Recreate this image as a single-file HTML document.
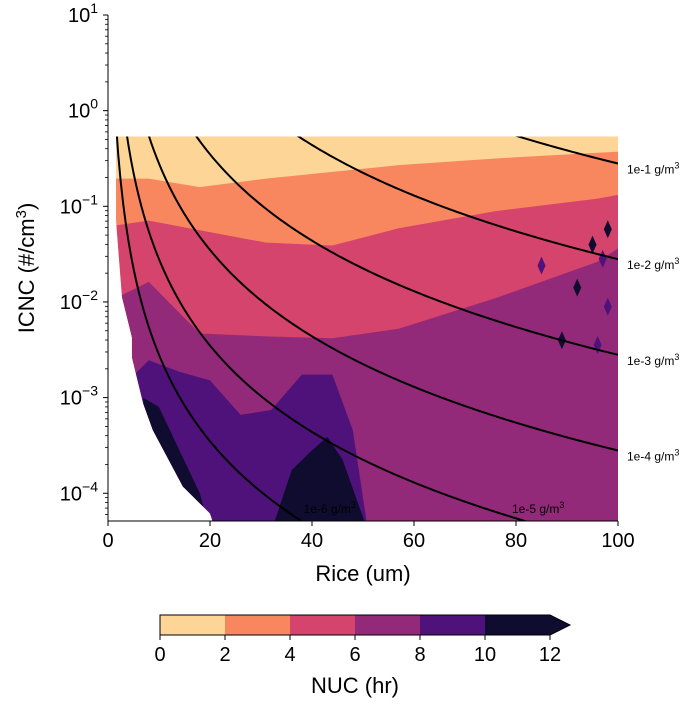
<!DOCTYPE html>
<html><head><meta charset="utf-8"><style>
body{margin:0;background:#fff;width:700px;height:700px;overflow:hidden;font-family:"Liberation Sans","DejaVu Sans",sans-serif}
</style></head><body>
<svg id="chart" width="700" height="700" xmlns="http://www.w3.org/2000/svg" font-family="Liberation Sans, DejaVu Sans, sans-serif"></svg>
<script>
// data
const levels=[0,2,4,6,8,10,12];
const colors=["#fdd596","#f8865f","#d5446c","#922a79","#4f127b","#100c2f"];
const bndX=[1.5,8,18,31,44,57,76,96,100];
const bnd2=[-0.71,-0.71,-0.80,-0.71,-0.64,-0.57,-0.50,-0.44,-0.43];
const bnd4=[-1.20,-1.15,-1.25,-1.38,-1.41,-1.23,-1.05,-0.92,-0.88];
const bnd6=[-1.96,-1.79,-2.33,-2.36,-2.38,-2.28,-1.96,-1.58,-1.44];
const bnd8X=[4,8,14,20,26,32,38,44,48,51];
const bnd8=[-2.82,-2.61,-2.73,-2.82,-3.18,-3.13,-2.76,-2.76,-3.34,-4.4];
const bnd10X=[32,36,40,43,46,51];
const bnd10=[-4.4,-3.76,-3.55,-3.41,-3.65,-4.4];
const edgeX=[1.57,1.57,2.75,4.7,4.7,6.9,8.8,14.7,20,20.5];
const edgeY=[-0.27,-1.14,-1.95,-2.37,-2.58,-3.06,-3.34,-3.93,-4.21,-4.29];
const spotX=[98,97,95,85,92,98,89,96];
const spotY=[-1.24,-1.55,-1.40,-1.62,-1.85,-2.05,-2.40,-2.45];
const iwc=[1e-1,1e-2,1e-3,1e-4,1e-5,1e-6];
const iwcLabels=["1e-1","1e-2","1e-3","1e-4","1e-5","1e-6"];
const xticks=[0,20,40,60,80,100];
const yticks=[1,0,-1,-2,-3,-4];
const cbTicks=[0,2,4,6,8,10,12];

const L=108,R=618,T=15,B=521,yMax=1,yMin=-4.29,dataTop=-0.27;
const X=v=>L+(v/100)*(R-L);
const Y=lv=>T+(yMax-lv)/(yMax-yMin)*(B-T);
const svg=document.getElementById('chart');
const NS="http://www.w3.org/2000/svg";
function mk(t,a,p){const e=document.createElementNS(NS,t);for(const k in a)e.setAttribute(k,a[k]);(p||svg).appendChild(e);return e;}

const defs=mk('defs',{});
const cp=mk('clipPath',{id:'dataclip'},defs);
let ep="M"+X(edgeX[0])+","+Y(edgeY[0]);
for(let i=1;i<edgeX.length;i++)ep+=" L"+X(edgeX[i])+","+Y(edgeY[i]);
ep+=" L"+X(100)+","+Y(-4.29)+" L"+X(100)+","+Y(dataTop)+" Z";
mk('path',{d:ep},cp);
const pc=mk('clipPath',{id:'plotclip'},defs);
mk('rect',{x:L,y:Y(dataTop),width:R-L,height:B-Y(dataTop)},pc);

const g=mk('g',{'clip-path':'url(#dataclip)'});


const base=mk('rect',{x:L,y:Y(dataTop),width:R-L,height:B-Y(dataTop),fill:colors[0]},g);


function band(xs,ys,col,name,closed){
  let d="M"+X(xs[0])+","+Y(ys[0]);
  for(let i=1;i<xs.length;i++)d+=" L"+X(xs[i])+","+Y(ys[i]);
  if(!closed)d+=" L"+X(xs[xs.length-1])+","+(B+5)+" L"+X(xs[0])+","+(B+5)+" Z"; else d+=" Z";
  const p=mk('path',{d:d,fill:col},g);
  
  
}
band([0].concat(bndX),[bnd2[0]].concat(bnd2),colors[1],'band-2-4');
band([0].concat(bndX),[bnd4[0]].concat(bnd4),colors[2],'band-4-6');
band([0].concat(bndX),[bnd6[0]].concat(bnd6),colors[3],'band-6-8');
band([0].concat(bnd8X),[bnd8[0]].concat(bnd8),colors[4],'band-8-10');
band(bnd10X,bnd10,colors[5],'band-10-12-patch');
band([6.9,10,14,18,20,15,10,7],[-3.0,-3.1,-3.55,-4.0,-4.4,-4.1,-3.5,-3.15],colors[5],'band-10-12-edge',true);
spotX.forEach((sx,i)=>{
  const cx=X(sx),cy=Y(spotY[i]);
  const p=mk('polygon',{points:`${cx},${cy-9} ${cx+4},${cy} ${cx},${cy+9} ${cx-4},${cy}`,fill:i%2?colors[4]:colors[5]},g);
  
  
});

// IWC lines
const lg=mk('g',{'clip-path':'url(#plotclip)'});


const K=2.8e6;
iwc.forEach((w,j)=>{
  let d="";
  for(let r=1.5;r<=100.01;r+=0.5){const lv=Math.log10(K*w/(r*r*r));d+=(d?" L":"M")+X(r)+","+Y(lv);}
  const p=mk('path',{d:d,fill:'none',stroke:'#000','stroke-width':2},lg);
  
  
  let lx,ly;
  const lv100=Math.log10(K*w/1e6);
  if(lv100>yMin){lx=627;ly=Y(lv100)+10;}else{const r=Math.cbrt(K*w/Math.pow(10,-4.2));lx=X(r)+15;ly=513;}
  const t=mk('text',{x:lx,y:ly,'font-size':12,fill:'#000'});
  t.innerHTML=iwcLabels[j]+' g/m<tspan dy="-5" font-size="9">3</tspan>';
  
  
});

// axes frame
const ax=mk('path',{d:`M${L},${T} L${L},${B} L${R},${B}`,fill:'none',stroke:'#000','stroke-width':1});


xticks.forEach(v=>{
  mk('line',{x1:X(v),x2:X(v),y1:B,y2:B+5,stroke:'#000'});
  const t=mk('text',{x:X(v),y:B+26,'font-size':20,'text-anchor':'middle'});t.textContent=v;
  
  
});
yticks.forEach(v=>{
  mk('line',{x1:L-5,x2:L,y1:Y(v),y2:Y(v),stroke:'#000'});
  for(let m=2;m<10;m++){const lv=v-1+Math.log10(m);if(lv>=yMin)mk('line',{x1:L-3,x2:L,y1:Y(lv),y2:Y(lv),stroke:'#000','stroke-width':0.8});}
  const t=mk('text',{x:L-10,y:Y(v)+7,'font-size':20,'text-anchor':'end'});
  t.innerHTML='10<tspan dy="-9" font-size="14">'+(v<0?'\u2212'+(-v):v)+'</tspan>';
  
  
});
const xt=mk('text',{x:363,y:581,'font-size':22,'text-anchor':'middle'});xt.textContent='Rice (um)';


const yt=mk('text',{x:0,y:0,'font-size':22,'text-anchor':'middle',transform:'translate(34,268) rotate(-90)'});
yt.innerHTML='ICNC (#/cm<tspan dy="-8" font-size="15">3</tspan><tspan dy="8">)</tspan>';



// colorbar
const cb=mk('g',{});


const c0=160,c1=550,cy=615,ch=20;
const CX=v=>c0+(v/12)*(c1-c0);
for(let i=0;i<colors.length;i++)mk('rect',{x:CX(levels[i]),y:cy,width:CX(levels[i+1])-CX(levels[i]),height:ch,fill:colors[i]},cb);
mk('polygon',{points:`${c1},${cy} ${c1+20},${cy+ch/2} ${c1},${cy+ch}`,fill:colors[5]},cb);
mk('path',{d:`M${c0},${cy} L${c1},${cy} L${c1+20},${cy+ch/2} L${c1},${cy+ch} L${c0},${cy+ch} Z`,fill:'none',stroke:'#000'},cb);
cbTicks.forEach(v=>{
  mk('line',{x1:CX(v),x2:CX(v),y1:cy+ch,y2:cy+ch+5,stroke:'#000'},cb);
  const t=mk('text',{x:CX(v),y:cy+ch+26,'font-size':20,'text-anchor':'middle'},cb);t.textContent=v;
  
  
});
const ct=mk('text',{x:355,y:693,'font-size':22,'text-anchor':'middle'});ct.textContent='NUC (hr)';


</script>
</body></html>
